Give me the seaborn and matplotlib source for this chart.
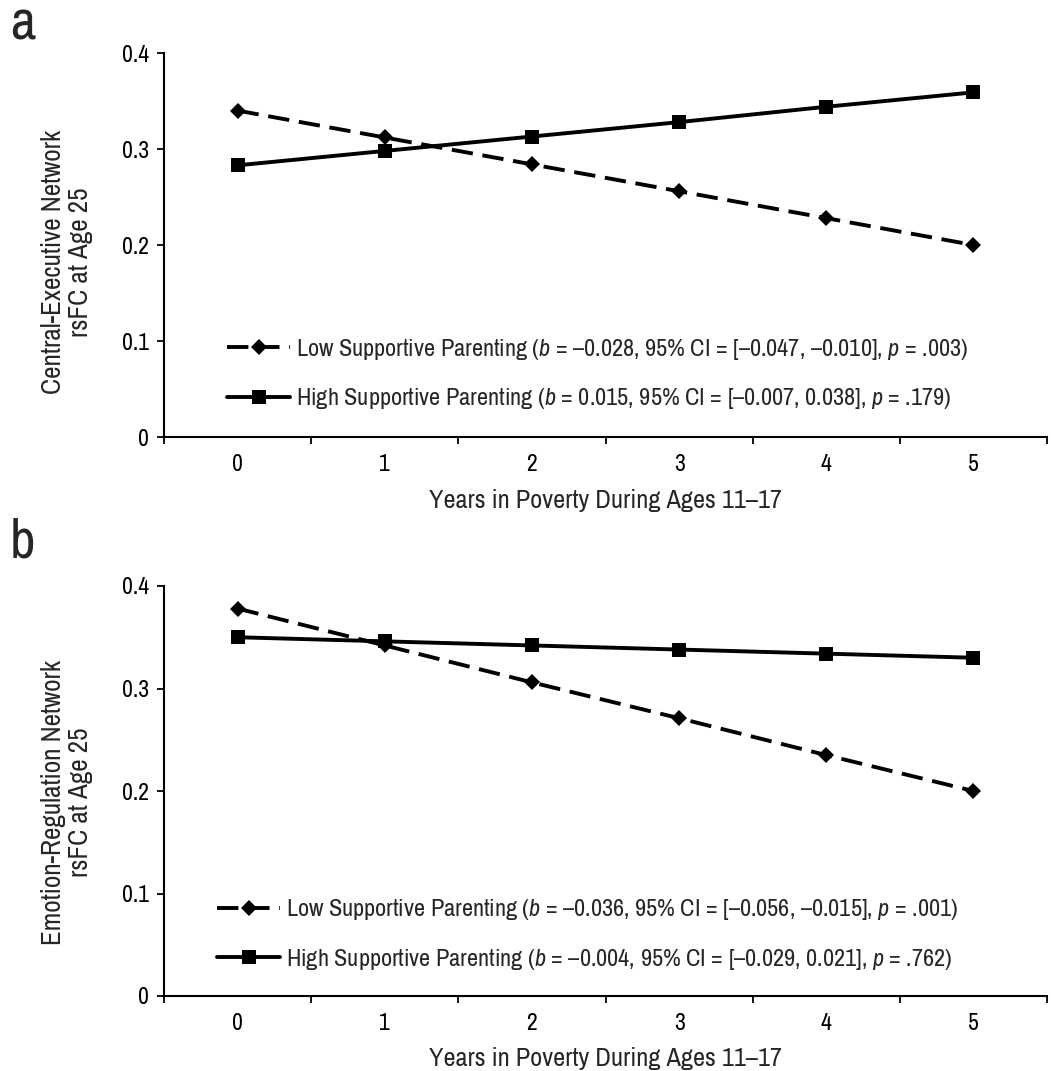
import matplotlib
matplotlib.use("Agg")
import matplotlib.pyplot as plt
import numpy as np
import pandas as pd
import seaborn as sns

# values
years = [0, 1, 2, 3, 4, 5]
ce_low = [0.340, 0.312, 0.284, 0.256, 0.228, 0.200]
ce_high = [0.283, 0.298, 0.313, 0.328, 0.344, 0.359]
er_low = [0.378, 0.342, 0.306, 0.271, 0.235, 0.200]
er_high = [0.350, 0.346, 0.342, 0.338, 0.334, 0.330]

ce_low_label = r"Low Supportive Parenting ($b$ = –0.028, 95% CI = [–0.047, –0.010], $p$ = .003)"
ce_high_label = r"High Supportive Parenting ($b$ = 0.015, 95% CI = [–0.007, 0.038], $p$ = .179)"
er_low_label = r"Low Supportive Parenting ($b$ = –0.036, 95% CI = [–0.056, –0.015], $p$ = .001)"
er_high_label = r"High Supportive Parenting ($b$ = –0.004, 95% CI = [–0.029, 0.021], $p$ = .762)"

y_ticks = [0, 0.1, 0.2, 0.3, 0.4]
y_ticklabels = ["0", "0.1", "0.2", "0.3", "0.4"]
x_label = "Years in Poverty During Ages 11–17"

sns.set_theme(style="ticks")
plt.rcParams["font.family"] = ["Archivo Narrow", "Liberation Sans", "DejaVu Sans"]
plt.rcParams["mathtext.fontset"] = "custom"
plt.rcParams["mathtext.rm"] = "Archivo Narrow"
plt.rcParams["mathtext.it"] = "Archivo Narrow:italic"
plt.rcParams["axes.unicode_minus"] = False

W, H = 1051, 1071
fig = plt.figure(figsize=(W / 100, H / 100), dpi=100)


def px_axes(left, top, right, bottom):
    return fig.add_axes([left / W, 1 - bottom / H, (right - left) / W, (bottom - top) / H])


def draw_panel(ax, low, high, low_label, high_label, ylabel, ylabel_y, leg_y, leg_x, xlabel_off):
    df_low = pd.DataFrame({"years": years, "rsfc": low})
    df_high = pd.DataFrame({"years": years, "rsfc": high})
    sns.lineplot(data=df_low, x="years", y="rsfc", ax=ax, color="black", lw=2.8,
                 marker="D", markersize=8, label=low_label,
                 linestyle=(0, (5.5, 2.5)), markeredgewidth=0)
    sns.lineplot(data=df_high, x="years", y="rsfc", ax=ax, color="black", lw=2.8,
                 marker="s", markersize=9.5, label=high_label, markeredgewidth=0)

    ax.set_xlim(-0.5, 5.5)
    ax.set_ylim(0, 0.4)
    sns.despine(ax=ax)
    for s in ("left", "bottom"):
        ax.spines[s].set_linewidth(1.5)
        ax.spines[s].set_color("black")

    ax.set_yticks(y_ticks)
    ax.set_yticklabels(y_ticklabels, fontsize=17)
    ax.tick_params(axis="y", direction="out", length=5, width=1.3, pad=6, colors="black")

    ax.set_xticks(np.arange(-0.5, 6.0, 1.0))
    ax.set_xticklabels([""] * 7)
    ax.set_xticks(years, minor=True)
    ax.set_xticklabels([str(v) for v in years], minor=True, fontsize=17)
    ax.tick_params(axis="x", which="major", direction="out", length=5, width=1.3, colors="black")
    ax.tick_params(axis="x", which="minor", length=0, pad=12.5, colors="black")

    ax.set_ylabel(ylabel, fontsize=19.5, va="center", linespacing=1.1)
    ax.yaxis.set_label_coords(-0.110, ylabel_y)
    ax.set_xlabel(x_label, fontsize=19, va="center")
    ax.xaxis.set_label_coords(0.5, xlabel_off)

    leg = ax.legend(loc="center left", bbox_to_anchor=(leg_x, leg_y), frameon=False,
                    fontsize=17.5, handlelength=2.6, handletextpad=0.25, labelspacing=1.0,
                    borderaxespad=0, borderpad=0)
    return leg


ax1 = px_axes(164, 53, 1047, 437)
draw_panel(ax1, ce_low, ce_high, ce_low_label, ce_high_label,
           "Central-Executive Network\nrsFC at Age 25", 0.456, 0.164, 0.0713, -63 / 384)

ax2 = px_axes(164, 586, 1047, 996)
draw_panel(ax2, er_low, er_high, er_low_label, er_high_label,
           "Emotion-Regulation Network\nrsFC at Age 25", 0.473, 0.150, 0.060, -62 / 410)

fig.text(10 / W, 1 - 40 / H, "a", fontsize=40, ha="left", va="baseline")
fig.text(10 / W, 1 - 557 / H, "b", fontsize=40, ha="left", va="baseline")

fig.savefig("out.png", dpi=100)
